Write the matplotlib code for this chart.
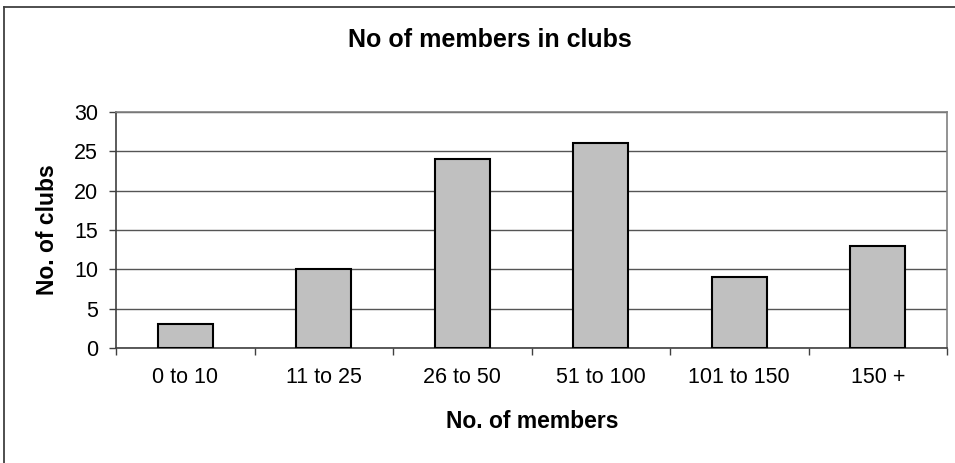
import matplotlib
matplotlib.use("Agg")
import matplotlib.pyplot as plt
from matplotlib.lines import Line2D
import numpy as np

categories = ["0 to 10", "11 to 25", "26 to 50", "51 to 100", "101 to 150", "150 +"]
clubs = [3, 10, 24, 26, 9, 13]
y_ticks = [0, 5, 10, 15, 20, 25, 30]

plt.rcParams['font.family'] = ['Liberation Sans', 'DejaVu Sans']

W, H = 955, 463
fig = plt.figure(figsize=(W / 100, H / 100), dpi=100)
fig.patch.set_facecolor("white")

# chart area frame (top and left edges visible)
fig.add_artist(Line2D([4 / W, 1.0], [1 - 7 / H, 1 - 7 / H], transform=fig.transFigure,
                      color="#404040", lw=1.3))
fig.add_artist(Line2D([4 / W, 4 / W], [1 - 7 / H, 0.0], transform=fig.transFigure,
                      color="#404040", lw=1.3))

left, right, top, bottom = 116, 947, 112, 348
ax = fig.add_axes([left / W, 1 - bottom / H, (right - left) / W, (bottom - top) / H])

x = np.arange(len(categories))
ax.bar(x, clubs, width=0.4, color="#C0C0C0", edgecolor="black", linewidth=1.5, zorder=3)

ax.set_xlim(-0.5, len(categories) - 0.5)
ax.set_ylim(0, 30)
ax.set_yticks(y_ticks)
ax.yaxis.grid(True, color="#555555", linewidth=1.0, zorder=0)
ax.set_axisbelow(True)

ax.set_xticks(x)
ax.set_xticklabels(categories, fontsize=15.5)
ax.set_xticks(np.arange(len(categories) + 1) - 0.5, minor=True)
ax.tick_params(axis="x", which="major", length=0, pad=14)
ax.tick_params(axis="x", which="minor", length=5, width=1, color="#404040", direction="out")
ax.tick_params(axis="y", which="major", length=5, width=1, color="#404040", direction="out",
               labelsize=15.5, pad=8)

for s in ("top", "right"):
    ax.spines[s].set_color("#808080")
    ax.spines[s].set_linewidth(1.2)
for s in ("left", "bottom"):
    ax.spines[s].set_color("#404040")
    ax.spines[s].set_linewidth(1.2)

fig.text(490 / W, 1 - 40 / H, "No of members in clubs", fontsize=18, fontweight="bold",
         ha="center", va="center")
fig.text(532 / W, 1 - 422 / H, "No. of members", fontsize=16.5, fontweight="bold",
         ha="center", va="center")
fig.text(48 / W, 1 - 230 / H, "No. of clubs", fontsize=16.5, fontweight="bold",
         ha="center", va="center", rotation=90)

fig.savefig("out.png", dpi=100)
